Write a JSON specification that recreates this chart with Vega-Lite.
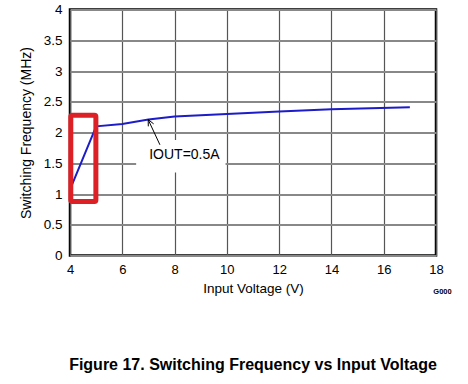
{
  "$schema": "https://vega.github.io/schema/vega-lite/v6.json",
  "width": 366,
  "height": 246,
  "autosize": {"type": "none"},
  "padding": {"left": 70, "top": 9.5, "right": 32, "bottom": 128.5},
  "background": "white",
  "config": {
    "font": "Liberation Sans",
    "view": {"stroke": "black", "strokeWidth": 2.5},
    "axis": {"labelFont": "Liberation Sans", "titleFont": "Liberation Sans", "labelColor": "black", "titleColor": "black", "titleFontWeight": "normal", "domain": false, "ticks": false}
  },
  "title": {
    "text": "Figure 17. Switching Frequency vs Input Voltage",
    "orient": "bottom",
    "anchor": "middle",
    "offset": 61,
    "font": "Liberation Sans",
    "fontSize": 16,
    "fontWeight": "bold",
    "color": "black"
  },
  "data": {
    "values": [
      {"kind": "curve", "x": 4, "y": 1.07},
      {"kind": "curve", "x": 5, "y": 2.1},
      {"kind": "curve", "x": 6, "y": 2.14},
      {"kind": "curve", "x": 7, "y": 2.21},
      {"kind": "curve", "x": 8, "y": 2.26},
      {"kind": "curve", "x": 10, "y": 2.3},
      {"kind": "curve", "x": 12, "y": 2.34},
      {"kind": "curve", "x": 14, "y": 2.38},
      {"kind": "curve", "x": 17, "y": 2.41},
      {"kind": "box", "x": 6.53, "y": 1.88, "x2": 9.95, "y2": 1.35},
      {"kind": "label", "x": 7.03, "y": 1.63, "text": "IOUT=0.5A"},
      {"kind": "arrow", "x": 7.44, "y": 1.80, "x2": 6.99, "y2": 2.21},
      {"kind": "arrow", "x": 6.99, "y": 2.21, "x2": 6.995, "y2": 2.10},
      {"kind": "arrow", "x": 6.99, "y": 2.21, "x2": 7.2, "y2": 2.14},
      {"kind": "red", "x": 4.03, "y": 2.28, "x2": 4.99, "y2": 0.88},
      {"kind": "code", "x": 18.25, "y": -0.6, "text": "G000"}
    ]
  },
  "encoding": {
    "x": {
      "field": "x", "type": "quantitative",
      "scale": {"domain": [4, 18], "nice": false, "zero": false},
      "axis": {"title": "Input Voltage (V)", "values": [4, 6, 8, 10, 12, 14, 16, 18], "format": "~g", "labelFontSize": 13, "labelPadding": 8, "titleFontSize": 13.5, "titlePadding": 5, "gridColor": "#555555", "gridWidth": 1.2, "gridOpacity": 1, "labelFlush": false}
    },
    "y": {
      "field": "y", "type": "quantitative",
      "scale": {"domain": [0, 4], "nice": false},
      "axis": {"title": "Switching Frequency (MHz)", "values": [0, 0.5, 1, 1.5, 2, 2.5, 3, 3.5, 4], "format": "~g", "labelFontSize": 13.5, "labelPadding": 8, "titleFontSize": 14, "titlePadding": 10, "gridColor": "#888888", "gridWidth": 1.8, "gridOpacity": 1, "labelFlush": false}
    }
  },
  "layer": [
    {
      "transform": [{"filter": "datum.kind === 'box'"}],
      "mark": {"type": "rect", "fill": "white", "stroke": null},
      "encoding": {"x2": {"field": "x2"}, "y2": {"field": "y2"}}
    },
    {
      "transform": [{"filter": "datum.kind === 'curve'"}],
      "mark": {"type": "line", "color": "#1c1cc8", "strokeWidth": 2}
    },
    {
      "transform": [{"filter": "datum.kind === 'label'"}],
      "mark": {"type": "text", "align": "left", "baseline": "middle", "fontSize": 14, "color": "black", "font": "Liberation Sans"},
      "encoding": {"text": {"field": "text"}}
    },
    {
      "transform": [{"filter": "datum.kind === 'arrow'"}],
      "mark": {"type": "rule", "color": "black", "strokeWidth": 1},
      "encoding": {"x2": {"field": "x2"}, "y2": {"field": "y2"}}
    },
    {
      "transform": [{"filter": "datum.kind === 'red'"}],
      "mark": {"type": "rect", "fill": null, "stroke": "#dd1f26", "strokeWidth": 5, "cornerRadius": 1.5},
      "encoding": {"x2": {"field": "x2"}, "y2": {"field": "y2"}}
    },
    {
      "transform": [{"filter": "datum.kind === 'code'"}],
      "mark": {"type": "text", "align": "center", "baseline": "middle", "fontSize": 7.5, "fontWeight": "bold", "color": "black", "font": "Liberation Sans"},
      "encoding": {"text": {"field": "text"}}
    }
  ]
}
